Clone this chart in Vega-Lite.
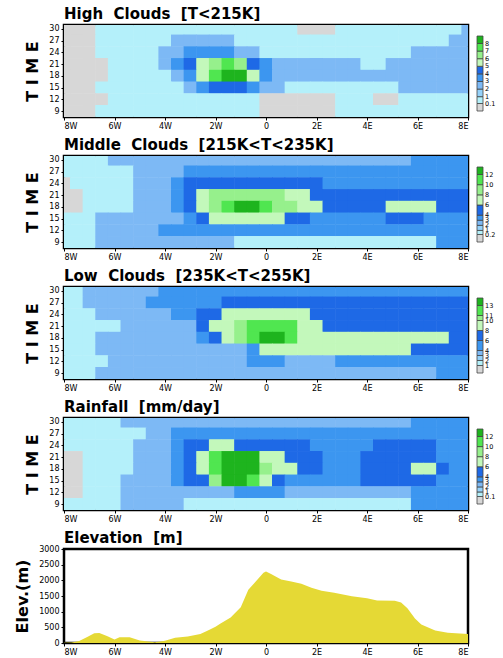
{
"$schema": "https://vega.github.io/schema/vega-lite/v6.json",
"padding": {"left": 13, "top": 5, "right": 0, "bottom": 0},
"background": "white",
"spacing": 4,
"resolve": {"scale": {"color": "independent"}, "legend": {"color": "independent"}},
"config": {
 "view": {"stroke": "#000", "strokeWidth": 2.5},
 "axis": {"grid": false, "domain": false, "tickColor": "#000", "tickSize": 3, "labelFont": "DejaVu Sans", "labelFontSize": 8, "labelColor": "#000", "labelPadding": 2, "titleFont": "DejaVu Sans", "titleFontWeight": "bold", "titleColor": "#000", "titleFontSize": 16, "titlePadding": 8},
 "title": {"anchor": "start", "frame": "group", "font": "DejaVu Sans", "fontSize": 15, "fontWeight": "bold", "color": "#000", "offset": 3},
 "legend": {"type": "gradient", "orient": "none", "legendX": 413, "legendY": 11, "gradientLength": 75, "gradientThickness": 6, "labelFont": "DejaVu Sans", "labelFontSize": 6.5, "labelColor": "#000", "labelOverlap": false, "gradientStrokeColor": "#444", "gradientStrokeWidth": 0.8, "labelOffset": 2, "padding": 0}
},
"vconcat": [
{
 "title": {"text": "High\u00a0 Clouds\u00a0 [T<215K]"},
 "width": 404, "height": 92,
 "data": {"values": [
{"x":-8,"t":30,"v":0.05},{"x":-7.5,"t":30,"v":0.05},{"x":-7,"t":30,"v":0.05},{"x":-6.5,"t":30,"v":0.5},{"x":-6,"t":30,"v":0.5},{"x":-5.5,"t":30,"v":0.5},{"x":-5,"t":30,"v":0.5},{"x":-4.5,"t":30,"v":0.5},{"x":-4,"t":30,"v":0.5},{"x":-3.5,"t":30,"v":0.5},{"x":-3,"t":30,"v":0.5},{"x":-2.5,"t":30,"v":0.5},{"x":-2,"t":30,"v":0.5},{"x":-1.5,"t":30,"v":0.5},{"x":-1,"t":30,"v":0.5},{"x":-0.5,"t":30,"v":0.5},{"x":0,"t":30,"v":0.5},{"x":0.5,"t":30,"v":0.5},{"x":1,"t":30,"v":0.5},{"x":1.5,"t":30,"v":0.05},{"x":2,"t":30,"v":0.05},{"x":2.5,"t":30,"v":0.05},{"x":3,"t":30,"v":0.5},{"x":3.5,"t":30,"v":0.5},{"x":4,"t":30,"v":0.5},{"x":4.5,"t":30,"v":0.5},{"x":5,"t":30,"v":0.5},{"x":5.5,"t":30,"v":0.5},{"x":6,"t":30,"v":0.5},{"x":6.5,"t":30,"v":0.5},{"x":7,"t":30,"v":0.5},{"x":7.5,"t":30,"v":0.5},{"x":8,"t":30,"v":2.5},
{"x":-8,"t":27,"v":0.05},{"x":-7.5,"t":27,"v":0.05},{"x":-7,"t":27,"v":0.05},{"x":-6.5,"t":27,"v":0.5},{"x":-6,"t":27,"v":0.5},{"x":-5.5,"t":27,"v":0.5},{"x":-5,"t":27,"v":0.5},{"x":-4.5,"t":27,"v":0.5},{"x":-4,"t":27,"v":0.5},{"x":-3.5,"t":27,"v":2.5},{"x":-3,"t":27,"v":2.5},{"x":-2.5,"t":27,"v":2.5},{"x":-2,"t":27,"v":2.5},{"x":-1.5,"t":27,"v":2.5},{"x":-1,"t":27,"v":0.5},{"x":-0.5,"t":27,"v":0.5},{"x":0,"t":27,"v":0.5},{"x":0.5,"t":27,"v":0.5},{"x":1,"t":27,"v":0.5},{"x":1.5,"t":27,"v":0.5},{"x":2,"t":27,"v":0.5},{"x":2.5,"t":27,"v":0.5},{"x":3,"t":27,"v":0.5},{"x":3.5,"t":27,"v":0.5},{"x":4,"t":27,"v":0.5},{"x":4.5,"t":27,"v":0.5},{"x":5,"t":27,"v":0.5},{"x":5.5,"t":27,"v":0.5},{"x":6,"t":27,"v":0.5},{"x":6.5,"t":27,"v":0.5},{"x":7,"t":27,"v":0.5},{"x":7.5,"t":27,"v":2.5},{"x":8,"t":27,"v":2.5},
{"x":-8,"t":24,"v":0.05},{"x":-7.5,"t":24,"v":0.05},{"x":-7,"t":24,"v":0.05},{"x":-6.5,"t":24,"v":0.5},{"x":-6,"t":24,"v":0.5},{"x":-5.5,"t":24,"v":0.5},{"x":-5,"t":24,"v":0.5},{"x":-4.5,"t":24,"v":0.5},{"x":-4,"t":24,"v":2.5},{"x":-3.5,"t":24,"v":2.5},{"x":-3,"t":24,"v":3.5},{"x":-2.5,"t":24,"v":3.5},{"x":-2,"t":24,"v":3.5},{"x":-1.5,"t":24,"v":3.5},{"x":-1,"t":24,"v":2.5},{"x":-0.5,"t":24,"v":2.5},{"x":0,"t":24,"v":0.5},{"x":0.5,"t":24,"v":0.5},{"x":1,"t":24,"v":0.5},{"x":1.5,"t":24,"v":0.5},{"x":2,"t":24,"v":0.5},{"x":2.5,"t":24,"v":0.5},{"x":3,"t":24,"v":0.5},{"x":3.5,"t":24,"v":0.5},{"x":4,"t":24,"v":0.5},{"x":4.5,"t":24,"v":0.5},{"x":5,"t":24,"v":0.5},{"x":5.5,"t":24,"v":0.5},{"x":6,"t":24,"v":2.5},{"x":6.5,"t":24,"v":2.5},{"x":7,"t":24,"v":2.5},{"x":7.5,"t":24,"v":2.5},{"x":8,"t":24,"v":2.5},
{"x":-8,"t":21,"v":0.05},{"x":-7.5,"t":21,"v":0.05},{"x":-7,"t":21,"v":0.05},{"x":-6.5,"t":21,"v":0.05},{"x":-6,"t":21,"v":0.5},{"x":-5.5,"t":21,"v":0.5},{"x":-5,"t":21,"v":0.5},{"x":-4.5,"t":21,"v":0.5},{"x":-4,"t":21,"v":2.5},{"x":-3.5,"t":21,"v":3.5},{"x":-3,"t":21,"v":4.5},{"x":-2.5,"t":21,"v":5.5},{"x":-2,"t":21,"v":6.5},{"x":-1.5,"t":21,"v":7.5},{"x":-1,"t":21,"v":6.5},{"x":-0.5,"t":21,"v":4.5},{"x":0,"t":21,"v":3.5},{"x":0.5,"t":21,"v":2.5},{"x":1,"t":21,"v":2.5},{"x":1.5,"t":21,"v":2.5},{"x":2,"t":21,"v":2.5},{"x":2.5,"t":21,"v":2.5},{"x":3,"t":21,"v":2.5},{"x":3.5,"t":21,"v":2.5},{"x":4,"t":21,"v":0.5},{"x":4.5,"t":21,"v":0.5},{"x":5,"t":21,"v":2.5},{"x":5.5,"t":21,"v":2.5},{"x":6,"t":21,"v":2.5},{"x":6.5,"t":21,"v":2.5},{"x":7,"t":21,"v":2.5},{"x":7.5,"t":21,"v":2.5},{"x":8,"t":21,"v":2.5},
{"x":-8,"t":18,"v":0.05},{"x":-7.5,"t":18,"v":0.05},{"x":-7,"t":18,"v":0.05},{"x":-6.5,"t":18,"v":0.05},{"x":-6,"t":18,"v":0.5},{"x":-5.5,"t":18,"v":0.5},{"x":-5,"t":18,"v":0.5},{"x":-4.5,"t":18,"v":0.5},{"x":-4,"t":18,"v":0.5},{"x":-3.5,"t":18,"v":2.5},{"x":-3,"t":18,"v":3.5},{"x":-2.5,"t":18,"v":5.5},{"x":-2,"t":18,"v":7.5},{"x":-1.5,"t":18,"v":8.5},{"x":-1,"t":18,"v":8.5},{"x":-0.5,"t":18,"v":5.5},{"x":0,"t":18,"v":3.5},{"x":0.5,"t":18,"v":2.5},{"x":1,"t":18,"v":2.5},{"x":1.5,"t":18,"v":2.5},{"x":2,"t":18,"v":2.5},{"x":2.5,"t":18,"v":2.5},{"x":3,"t":18,"v":2.5},{"x":3.5,"t":18,"v":2.5},{"x":4,"t":18,"v":2.5},{"x":4.5,"t":18,"v":2.5},{"x":5,"t":18,"v":2.5},{"x":5.5,"t":18,"v":2.5},{"x":6,"t":18,"v":2.5},{"x":6.5,"t":18,"v":2.5},{"x":7,"t":18,"v":2.5},{"x":7.5,"t":18,"v":2.5},{"x":8,"t":18,"v":2.5},
{"x":-8,"t":15,"v":0.05},{"x":-7.5,"t":15,"v":0.05},{"x":-7,"t":15,"v":0.05},{"x":-6.5,"t":15,"v":0.5},{"x":-6,"t":15,"v":0.5},{"x":-5.5,"t":15,"v":0.5},{"x":-5,"t":15,"v":0.5},{"x":-4.5,"t":15,"v":0.5},{"x":-4,"t":15,"v":0.5},{"x":-3.5,"t":15,"v":0.5},{"x":-3,"t":15,"v":2.5},{"x":-2.5,"t":15,"v":3.5},{"x":-2,"t":15,"v":4.5},{"x":-1.5,"t":15,"v":4.5},{"x":-1,"t":15,"v":4.5},{"x":-0.5,"t":15,"v":3.5},{"x":0,"t":15,"v":2.5},{"x":0.5,"t":15,"v":2.5},{"x":1,"t":15,"v":0.5},{"x":1.5,"t":15,"v":0.5},{"x":2,"t":15,"v":0.5},{"x":2.5,"t":15,"v":0.5},{"x":3,"t":15,"v":0.5},{"x":3.5,"t":15,"v":0.5},{"x":4,"t":15,"v":0.5},{"x":4.5,"t":15,"v":0.5},{"x":5,"t":15,"v":0.5},{"x":5.5,"t":15,"v":2.5},{"x":6,"t":15,"v":2.5},{"x":6.5,"t":15,"v":2.5},{"x":7,"t":15,"v":2.5},{"x":7.5,"t":15,"v":2.5},{"x":8,"t":15,"v":2.5},
{"x":-8,"t":12,"v":0.05},{"x":-7.5,"t":12,"v":0.05},{"x":-7,"t":12,"v":0.05},{"x":-6.5,"t":12,"v":0.05},{"x":-6,"t":12,"v":0.5},{"x":-5.5,"t":12,"v":0.5},{"x":-5,"t":12,"v":0.5},{"x":-4.5,"t":12,"v":0.5},{"x":-4,"t":12,"v":0.5},{"x":-3.5,"t":12,"v":0.5},{"x":-3,"t":12,"v":0.5},{"x":-2.5,"t":12,"v":0.5},{"x":-2,"t":12,"v":0.5},{"x":-1.5,"t":12,"v":0.5},{"x":-1,"t":12,"v":0.5},{"x":-0.5,"t":12,"v":0.5},{"x":0,"t":12,"v":0.05},{"x":0.5,"t":12,"v":0.05},{"x":1,"t":12,"v":0.05},{"x":1.5,"t":12,"v":0.05},{"x":2,"t":12,"v":0.05},{"x":2.5,"t":12,"v":0.05},{"x":3,"t":12,"v":0.5},{"x":3.5,"t":12,"v":0.5},{"x":4,"t":12,"v":0.5},{"x":4.5,"t":12,"v":0.05},{"x":5,"t":12,"v":0.05},{"x":5.5,"t":12,"v":0.5},{"x":6,"t":12,"v":0.5},{"x":6.5,"t":12,"v":0.5},{"x":7,"t":12,"v":0.5},{"x":7.5,"t":12,"v":0.5},{"x":8,"t":12,"v":0.5},
{"x":-8,"t":9,"v":0.05},{"x":-7.5,"t":9,"v":0.05},{"x":-7,"t":9,"v":0.05},{"x":-6.5,"t":9,"v":0.5},{"x":-6,"t":9,"v":0.5},{"x":-5.5,"t":9,"v":0.5},{"x":-5,"t":9,"v":0.5},{"x":-4.5,"t":9,"v":0.5},{"x":-4,"t":9,"v":0.5},{"x":-3.5,"t":9,"v":0.5},{"x":-3,"t":9,"v":0.5},{"x":-2.5,"t":9,"v":0.5},{"x":-2,"t":9,"v":0.5},{"x":-1.5,"t":9,"v":0.5},{"x":-1,"t":9,"v":0.5},{"x":-0.5,"t":9,"v":0.5},{"x":0,"t":9,"v":0.05},{"x":0.5,"t":9,"v":0.05},{"x":1,"t":9,"v":0.05},{"x":1.5,"t":9,"v":0.05},{"x":2,"t":9,"v":0.05},{"x":2.5,"t":9,"v":0.05},{"x":3,"t":9,"v":0.5},{"x":3.5,"t":9,"v":0.5},{"x":4,"t":9,"v":0.5},{"x":4.5,"t":9,"v":0.5},{"x":5,"t":9,"v":0.5},{"x":5.5,"t":9,"v":0.5},{"x":6,"t":9,"v":0.5},{"x":6.5,"t":9,"v":0.5},{"x":7,"t":9,"v":0.5},{"x":7.5,"t":9,"v":0.5},{"x":8,"t":9,"v":0.5}
 ]},
 "mark": {"type": "rect", "width": 13.2, "height": 12.2, "clip": true},
 "encoding": {
  "x": {"field": "x", "type": "quantitative", "scale": {"domain": [-8, 8], "nice": false, "zero": false}, "axis": {"values": [-8,-6,-4,-2,0,2,4,6,8], "labelExpr": "datum.value < 0 ? -datum.value + 'W' : datum.value > 0 ? datum.value + 'E' : '0'", "title": null}},
  "y": {"field": "t", "type": "quantitative", "scale": {"domain": [7.5, 31], "nice": false, "zero": false}, "axis": {"values": [9,12,15,18,21,24,27,30], "title": "T I M E"}},
  "color": {"field": "v", "type": "quantitative", "scale": {"type": "threshold", "domain": [0.1,1,2,3,4,5,6,7,8], "range": ["#d7d7d7","#b4f0fa","#96d2fa","#7db9f5","#3c96f0","#1e69e6","#c3f8bb","#96f08c","#50e650","#1eb41e"]}, "legend": {"title": null, "format": "~g"}}
 }
},
{
 "title": {"text": "Middle\u00a0 Clouds\u00a0 [215K<T<235K]"},
 "width": 404, "height": 92,
 "data": {"values": [
{"x":-8,"t":30,"v":0.6},{"x":-7.5,"t":30,"v":0.6},{"x":-7,"t":30,"v":0.6},{"x":-6.5,"t":30,"v":0.6},{"x":-6,"t":30,"v":2.5},{"x":-5.5,"t":30,"v":2.5},{"x":-5,"t":30,"v":2.5},{"x":-4.5,"t":30,"v":2.5},{"x":-4,"t":30,"v":2.5},{"x":-3.5,"t":30,"v":2.5},{"x":-3,"t":30,"v":2.5},{"x":-2.5,"t":30,"v":2.5},{"x":-2,"t":30,"v":2.5},{"x":-1.5,"t":30,"v":2.5},{"x":-1,"t":30,"v":2.5},{"x":-0.5,"t":30,"v":2.5},{"x":0,"t":30,"v":2.5},{"x":0.5,"t":30,"v":2.5},{"x":1,"t":30,"v":2.5},{"x":1.5,"t":30,"v":2.5},{"x":2,"t":30,"v":2.5},{"x":2.5,"t":30,"v":2.5},{"x":3,"t":30,"v":2.5},{"x":3.5,"t":30,"v":2.5},{"x":4,"t":30,"v":2.5},{"x":4.5,"t":30,"v":2.5},{"x":5,"t":30,"v":2.5},{"x":5.5,"t":30,"v":2.5},{"x":6,"t":30,"v":3.5},{"x":6.5,"t":30,"v":3.5},{"x":7,"t":30,"v":3.5},{"x":7.5,"t":30,"v":3.5},{"x":8,"t":30,"v":3.5},
{"x":-8,"t":27,"v":0.6},{"x":-7.5,"t":27,"v":0.6},{"x":-7,"t":27,"v":0.6},{"x":-6.5,"t":27,"v":0.6},{"x":-6,"t":27,"v":0.6},{"x":-5.5,"t":27,"v":0.6},{"x":-5,"t":27,"v":2.5},{"x":-4.5,"t":27,"v":2.5},{"x":-4,"t":27,"v":2.5},{"x":-3.5,"t":27,"v":2.5},{"x":-3,"t":27,"v":3.5},{"x":-2.5,"t":27,"v":3.5},{"x":-2,"t":27,"v":3.5},{"x":-1.5,"t":27,"v":3.5},{"x":-1,"t":27,"v":3.5},{"x":-0.5,"t":27,"v":3.5},{"x":0,"t":27,"v":3.5},{"x":0.5,"t":27,"v":3.5},{"x":1,"t":27,"v":3.5},{"x":1.5,"t":27,"v":3.5},{"x":2,"t":27,"v":3.5},{"x":2.5,"t":27,"v":3.5},{"x":3,"t":27,"v":3.5},{"x":3.5,"t":27,"v":3.5},{"x":4,"t":27,"v":3.5},{"x":4.5,"t":27,"v":3.5},{"x":5,"t":27,"v":3.5},{"x":5.5,"t":27,"v":3.5},{"x":6,"t":27,"v":3.5},{"x":6.5,"t":27,"v":3.5},{"x":7,"t":27,"v":3.5},{"x":7.5,"t":27,"v":3.5},{"x":8,"t":27,"v":3.5},
{"x":-8,"t":24,"v":0.1},{"x":-7.5,"t":24,"v":0.6},{"x":-7,"t":24,"v":0.6},{"x":-6.5,"t":24,"v":0.6},{"x":-6,"t":24,"v":0.6},{"x":-5.5,"t":24,"v":0.6},{"x":-5,"t":24,"v":2.5},{"x":-4.5,"t":24,"v":2.5},{"x":-4,"t":24,"v":2.5},{"x":-3.5,"t":24,"v":3.5},{"x":-3,"t":24,"v":5},{"x":-2.5,"t":24,"v":5},{"x":-2,"t":24,"v":5},{"x":-1.5,"t":24,"v":5},{"x":-1,"t":24,"v":5},{"x":-0.5,"t":24,"v":5},{"x":0,"t":24,"v":5},{"x":0.5,"t":24,"v":5},{"x":1,"t":24,"v":5},{"x":1.5,"t":24,"v":5},{"x":2,"t":24,"v":5},{"x":2.5,"t":24,"v":3.5},{"x":3,"t":24,"v":3.5},{"x":3.5,"t":24,"v":3.5},{"x":4,"t":24,"v":3.5},{"x":4.5,"t":24,"v":3.5},{"x":5,"t":24,"v":3.5},{"x":5.5,"t":24,"v":3.5},{"x":6,"t":24,"v":3.5},{"x":6.5,"t":24,"v":3.5},{"x":7,"t":24,"v":3.5},{"x":7.5,"t":24,"v":3.5},{"x":8,"t":24,"v":3.5},
{"x":-8,"t":21,"v":0.1},{"x":-7.5,"t":21,"v":0.1},{"x":-7,"t":21,"v":0.6},{"x":-6.5,"t":21,"v":0.6},{"x":-6,"t":21,"v":0.6},{"x":-5.5,"t":21,"v":0.6},{"x":-5,"t":21,"v":2.5},{"x":-4.5,"t":21,"v":2.5},{"x":-4,"t":21,"v":2.5},{"x":-3.5,"t":21,"v":3.5},{"x":-3,"t":21,"v":5},{"x":-2.5,"t":21,"v":7},{"x":-2,"t":21,"v":9},{"x":-1.5,"t":21,"v":9},{"x":-1,"t":21,"v":9},{"x":-0.5,"t":21,"v":9},{"x":0,"t":21,"v":9},{"x":0.5,"t":21,"v":9},{"x":1,"t":21,"v":7},{"x":1.5,"t":21,"v":7},{"x":2,"t":21,"v":5},{"x":2.5,"t":21,"v":5},{"x":3,"t":21,"v":5},{"x":3.5,"t":21,"v":5},{"x":4,"t":21,"v":5},{"x":4.5,"t":21,"v":5},{"x":5,"t":21,"v":5},{"x":5.5,"t":21,"v":5},{"x":6,"t":21,"v":5},{"x":6.5,"t":21,"v":5},{"x":7,"t":21,"v":5},{"x":7.5,"t":21,"v":5},{"x":8,"t":21,"v":5},
{"x":-8,"t":18,"v":0.1},{"x":-7.5,"t":18,"v":0.1},{"x":-7,"t":18,"v":0.6},{"x":-6.5,"t":18,"v":0.6},{"x":-6,"t":18,"v":0.6},{"x":-5.5,"t":18,"v":0.6},{"x":-5,"t":18,"v":2.5},{"x":-4.5,"t":18,"v":2.5},{"x":-4,"t":18,"v":2.5},{"x":-3.5,"t":18,"v":3.5},{"x":-3,"t":18,"v":5},{"x":-2.5,"t":18,"v":7},{"x":-2,"t":18,"v":9},{"x":-1.5,"t":18,"v":11},{"x":-1,"t":18,"v":13},{"x":-0.5,"t":18,"v":13},{"x":0,"t":18,"v":11},{"x":0.5,"t":18,"v":9},{"x":1,"t":18,"v":9},{"x":1.5,"t":18,"v":7},{"x":2,"t":18,"v":7},{"x":2.5,"t":18,"v":5},{"x":3,"t":18,"v":5},{"x":3.5,"t":18,"v":5},{"x":4,"t":18,"v":5},{"x":4.5,"t":18,"v":5},{"x":5,"t":18,"v":7},{"x":5.5,"t":18,"v":7},{"x":6,"t":18,"v":7},{"x":6.5,"t":18,"v":7},{"x":7,"t":18,"v":5},{"x":7.5,"t":18,"v":5},{"x":8,"t":18,"v":5},
{"x":-8,"t":15,"v":0.6},{"x":-7.5,"t":15,"v":0.6},{"x":-7,"t":15,"v":0.6},{"x":-6.5,"t":15,"v":2.5},{"x":-6,"t":15,"v":2.5},{"x":-5.5,"t":15,"v":2.5},{"x":-5,"t":15,"v":2.5},{"x":-4.5,"t":15,"v":2.5},{"x":-4,"t":15,"v":2.5},{"x":-3.5,"t":15,"v":2.5},{"x":-3,"t":15,"v":3.5},{"x":-2.5,"t":15,"v":5},{"x":-2,"t":15,"v":7},{"x":-1.5,"t":15,"v":7},{"x":-1,"t":15,"v":7},{"x":-0.5,"t":15,"v":7},{"x":0,"t":15,"v":7},{"x":0.5,"t":15,"v":7},{"x":1,"t":15,"v":5},{"x":1.5,"t":15,"v":5},{"x":2,"t":15,"v":3.5},{"x":2.5,"t":15,"v":3.5},{"x":3,"t":15,"v":3.5},{"x":3.5,"t":15,"v":3.5},{"x":4,"t":15,"v":3.5},{"x":4.5,"t":15,"v":3.5},{"x":5,"t":15,"v":5},{"x":5.5,"t":15,"v":5},{"x":6,"t":15,"v":5},{"x":6.5,"t":15,"v":3.5},{"x":7,"t":15,"v":3.5},{"x":7.5,"t":15,"v":3.5},{"x":8,"t":15,"v":3.5},
{"x":-8,"t":12,"v":0.6},{"x":-7.5,"t":12,"v":0.6},{"x":-7,"t":12,"v":0.6},{"x":-6.5,"t":12,"v":2.5},{"x":-6,"t":12,"v":2.5},{"x":-5.5,"t":12,"v":2.5},{"x":-5,"t":12,"v":2.5},{"x":-4.5,"t":12,"v":2.5},{"x":-4,"t":12,"v":3.5},{"x":-3.5,"t":12,"v":3.5},{"x":-3,"t":12,"v":3.5},{"x":-2.5,"t":12,"v":3.5},{"x":-2,"t":12,"v":3.5},{"x":-1.5,"t":12,"v":3.5},{"x":-1,"t":12,"v":3.5},{"x":-0.5,"t":12,"v":3.5},{"x":0,"t":12,"v":3.5},{"x":0.5,"t":12,"v":3.5},{"x":1,"t":12,"v":3.5},{"x":1.5,"t":12,"v":3.5},{"x":2,"t":12,"v":3.5},{"x":2.5,"t":12,"v":3.5},{"x":3,"t":12,"v":3.5},{"x":3.5,"t":12,"v":3.5},{"x":4,"t":12,"v":3.5},{"x":4.5,"t":12,"v":3.5},{"x":5,"t":12,"v":3.5},{"x":5.5,"t":12,"v":3.5},{"x":6,"t":12,"v":3.5},{"x":6.5,"t":12,"v":3.5},{"x":7,"t":12,"v":3.5},{"x":7.5,"t":12,"v":3.5},{"x":8,"t":12,"v":3.5},
{"x":-8,"t":9,"v":0.6},{"x":-7.5,"t":9,"v":0.6},{"x":-7,"t":9,"v":0.6},{"x":-6.5,"t":9,"v":2.5},{"x":-6,"t":9,"v":2.5},{"x":-5.5,"t":9,"v":2.5},{"x":-5,"t":9,"v":2.5},{"x":-4.5,"t":9,"v":2.5},{"x":-4,"t":9,"v":2.5},{"x":-3.5,"t":9,"v":2.5},{"x":-3,"t":9,"v":2.5},{"x":-2.5,"t":9,"v":2.5},{"x":-2,"t":9,"v":2.5},{"x":-1.5,"t":9,"v":2.5},{"x":-1,"t":9,"v":0.6},{"x":-0.5,"t":9,"v":0.6},{"x":0,"t":9,"v":0.6},{"x":0.5,"t":9,"v":0.6},{"x":1,"t":9,"v":0.6},{"x":1.5,"t":9,"v":0.6},{"x":2,"t":9,"v":0.6},{"x":2.5,"t":9,"v":0.6},{"x":3,"t":9,"v":0.6},{"x":3.5,"t":9,"v":0.6},{"x":4,"t":9,"v":0.6},{"x":4.5,"t":9,"v":0.6},{"x":5,"t":9,"v":0.6},{"x":5.5,"t":9,"v":0.6},{"x":6,"t":9,"v":0.6},{"x":6.5,"t":9,"v":0.6},{"x":7,"t":9,"v":3.5},{"x":7.5,"t":9,"v":3.5},{"x":8,"t":9,"v":3.5}
 ]},
 "mark": {"type": "rect", "width": 13.2, "height": 12.2, "clip": true},
 "encoding": {
  "x": {"field": "x", "type": "quantitative", "scale": {"domain": [-8, 8], "nice": false, "zero": false}, "axis": {"values": [-8,-6,-4,-2,0,2,4,6,8], "labelExpr": "datum.value < 0 ? -datum.value + 'W' : datum.value > 0 ? datum.value + 'E' : '0'", "title": null}},
  "y": {"field": "t", "type": "quantitative", "scale": {"domain": [7.5, 31], "nice": false, "zero": false}, "axis": {"values": [9,12,15,18,21,24,27,30], "title": "T I M E"}},
  "color": {"field": "v", "type": "quantitative", "scale": {"type": "threshold", "domain": [0.2,1,2,3,4,6,8,10,12], "range": ["#d7d7d7","#b4f0fa","#96d2fa","#7db9f5","#3c96f0","#1e69e6","#c3f8bb","#96f08c","#50e650","#1eb41e"]}, "legend": {"title": null, "format": "~g"}}
 }
},
{
 "title": {"text": "Low\u00a0 Clouds\u00a0 [235K<T<255K]"},
 "width": 404, "height": 92,
 "data": {"values": [
{"x":-8,"t":30,"v":1.5},{"x":-7.5,"t":30,"v":1.5},{"x":-7,"t":30,"v":3.5},{"x":-6.5,"t":30,"v":3.5},{"x":-6,"t":30,"v":3.5},{"x":-5.5,"t":30,"v":3.5},{"x":-5,"t":30,"v":3.5},{"x":-4.5,"t":30,"v":3.5},{"x":-4,"t":30,"v":5},{"x":-3.5,"t":30,"v":5},{"x":-3,"t":30,"v":5},{"x":-2.5,"t":30,"v":5},{"x":-2,"t":30,"v":5},{"x":-1.5,"t":30,"v":5},{"x":-1,"t":30,"v":5},{"x":-0.5,"t":30,"v":5},{"x":0,"t":30,"v":5},{"x":0.5,"t":30,"v":5},{"x":1,"t":30,"v":5},{"x":1.5,"t":30,"v":5},{"x":2,"t":30,"v":5},{"x":2.5,"t":30,"v":5},{"x":3,"t":30,"v":5},{"x":3.5,"t":30,"v":5},{"x":4,"t":30,"v":5},{"x":4.5,"t":30,"v":5},{"x":5,"t":30,"v":5},{"x":5.5,"t":30,"v":5},{"x":6,"t":30,"v":5},{"x":6.5,"t":30,"v":5},{"x":7,"t":30,"v":5},{"x":7.5,"t":30,"v":5},{"x":8,"t":30,"v":5},
{"x":-8,"t":27,"v":1.5},{"x":-7.5,"t":27,"v":1.5},{"x":-7,"t":27,"v":3.5},{"x":-6.5,"t":27,"v":3.5},{"x":-6,"t":27,"v":3.5},{"x":-5.5,"t":27,"v":3.5},{"x":-5,"t":27,"v":3.5},{"x":-4.5,"t":27,"v":5},{"x":-4,"t":27,"v":5},{"x":-3.5,"t":27,"v":5},{"x":-3,"t":27,"v":5},{"x":-2.5,"t":27,"v":5},{"x":-2,"t":27,"v":5},{"x":-1.5,"t":27,"v":7},{"x":-1,"t":27,"v":7},{"x":-0.5,"t":27,"v":7},{"x":0,"t":27,"v":7},{"x":0.5,"t":27,"v":7},{"x":1,"t":27,"v":7},{"x":1.5,"t":27,"v":7},{"x":2,"t":27,"v":7},{"x":2.5,"t":27,"v":7},{"x":3,"t":27,"v":7},{"x":3.5,"t":27,"v":7},{"x":4,"t":27,"v":7},{"x":4.5,"t":27,"v":7},{"x":5,"t":27,"v":7},{"x":5.5,"t":27,"v":7},{"x":6,"t":27,"v":7},{"x":6.5,"t":27,"v":7},{"x":7,"t":27,"v":7},{"x":7.5,"t":27,"v":7},{"x":8,"t":27,"v":7},
{"x":-8,"t":24,"v":1.5},{"x":-7.5,"t":24,"v":1.5},{"x":-7,"t":24,"v":1.5},{"x":-6.5,"t":24,"v":3.5},{"x":-6,"t":24,"v":3.5},{"x":-5.5,"t":24,"v":3.5},{"x":-5,"t":24,"v":3.5},{"x":-4.5,"t":24,"v":3.5},{"x":-4,"t":24,"v":3.5},{"x":-3.5,"t":24,"v":5},{"x":-3,"t":24,"v":5},{"x":-2.5,"t":24,"v":7},{"x":-2,"t":24,"v":7},{"x":-1.5,"t":24,"v":9},{"x":-1,"t":24,"v":9},{"x":-0.5,"t":24,"v":9},{"x":0,"t":24,"v":9},{"x":0.5,"t":24,"v":9},{"x":1,"t":24,"v":9},{"x":1.5,"t":24,"v":9},{"x":2,"t":24,"v":7},{"x":2.5,"t":24,"v":7},{"x":3,"t":24,"v":7},{"x":3.5,"t":24,"v":7},{"x":4,"t":24,"v":7},{"x":4.5,"t":24,"v":7},{"x":5,"t":24,"v":7},{"x":5.5,"t":24,"v":7},{"x":6,"t":24,"v":7},{"x":6.5,"t":24,"v":7},{"x":7,"t":24,"v":7},{"x":7.5,"t":24,"v":7},{"x":8,"t":24,"v":7},
{"x":-8,"t":21,"v":1.5},{"x":-7.5,"t":21,"v":1.5},{"x":-7,"t":21,"v":1.5},{"x":-6.5,"t":21,"v":1.5},{"x":-6,"t":21,"v":1.5},{"x":-5.5,"t":21,"v":3.5},{"x":-5,"t":21,"v":3.5},{"x":-4.5,"t":21,"v":3.5},{"x":-4,"t":21,"v":3.5},{"x":-3.5,"t":21,"v":3.5},{"x":-3,"t":21,"v":3.5},{"x":-2.5,"t":21,"v":7},{"x":-2,"t":21,"v":9},{"x":-1.5,"t":21,"v":9},{"x":-1,"t":21,"v":10.5},{"x":-0.5,"t":21,"v":12},{"x":0,"t":21,"v":12},{"x":0.5,"t":21,"v":12},{"x":1,"t":21,"v":12},{"x":1.5,"t":21,"v":9},{"x":2,"t":21,"v":9},{"x":2.5,"t":21,"v":7},{"x":3,"t":21,"v":7},{"x":3.5,"t":21,"v":7},{"x":4,"t":21,"v":7},{"x":4.5,"t":21,"v":7},{"x":5,"t":21,"v":7},{"x":5.5,"t":21,"v":7},{"x":6,"t":21,"v":7},{"x":6.5,"t":21,"v":7},{"x":7,"t":21,"v":7},{"x":7.5,"t":21,"v":7},{"x":8,"t":21,"v":7},
{"x":-8,"t":18,"v":1.5},{"x":-7.5,"t":18,"v":1.5},{"x":-7,"t":18,"v":1.5},{"x":-6.5,"t":18,"v":3.5},{"x":-6,"t":18,"v":3.5},{"x":-5.5,"t":18,"v":3.5},{"x":-5,"t":18,"v":3.5},{"x":-4.5,"t":18,"v":3.5},{"x":-4,"t":18,"v":3.5},{"x":-3.5,"t":18,"v":3.5},{"x":-3,"t":18,"v":3.5},{"x":-2.5,"t":18,"v":5},{"x":-2,"t":18,"v":7},{"x":-1.5,"t":18,"v":9},{"x":-1,"t":18,"v":10.5},{"x":-0.5,"t":18,"v":12},{"x":0,"t":18,"v":14},{"x":0.5,"t":18,"v":14},{"x":1,"t":18,"v":12},{"x":1.5,"t":18,"v":9},{"x":2,"t":18,"v":9},{"x":2.5,"t":18,"v":9},{"x":3,"t":18,"v":9},{"x":3.5,"t":18,"v":9},{"x":4,"t":18,"v":9},{"x":4.5,"t":18,"v":9},{"x":5,"t":18,"v":9},{"x":5.5,"t":18,"v":9},{"x":6,"t":18,"v":9},{"x":6.5,"t":18,"v":9},{"x":7,"t":18,"v":9},{"x":7.5,"t":18,"v":7},{"x":8,"t":18,"v":7},
{"x":-8,"t":15,"v":1.5},{"x":-7.5,"t":15,"v":1.5},{"x":-7,"t":15,"v":1.5},{"x":-6.5,"t":15,"v":3.5},{"x":-6,"t":15,"v":3.5},{"x":-5.5,"t":15,"v":3.5},{"x":-5,"t":15,"v":3.5},{"x":-4.5,"t":15,"v":3.5},{"x":-4,"t":15,"v":3.5},{"x":-3.5,"t":15,"v":3.5},{"x":-3,"t":15,"v":3.5},{"x":-2.5,"t":15,"v":3.5},{"x":-2,"t":15,"v":3.5},{"x":-1.5,"t":15,"v":3.5},{"x":-1,"t":15,"v":3.5},{"x":-0.5,"t":15,"v":5},{"x":0,"t":15,"v":9},{"x":0.5,"t":15,"v":9},{"x":1,"t":15,"v":9},{"x":1.5,"t":15,"v":9},{"x":2,"t":15,"v":9},{"x":2.5,"t":15,"v":9},{"x":3,"t":15,"v":9},{"x":3.5,"t":15,"v":9},{"x":4,"t":15,"v":9},{"x":4.5,"t":15,"v":9},{"x":5,"t":15,"v":9},{"x":5.5,"t":15,"v":9},{"x":6,"t":15,"v":7},{"x":6.5,"t":15,"v":7},{"x":7,"t":15,"v":7},{"x":7.5,"t":15,"v":7},{"x":8,"t":15,"v":7},
{"x":-8,"t":12,"v":1.5},{"x":-7.5,"t":12,"v":1.5},{"x":-7,"t":12,"v":1.5},{"x":-6.5,"t":12,"v":1.5},{"x":-6,"t":12,"v":3.5},{"x":-5.5,"t":12,"v":3.5},{"x":-5,"t":12,"v":3.5},{"x":-4.5,"t":12,"v":3.5},{"x":-4,"t":12,"v":3.5},{"x":-3.5,"t":12,"v":3.5},{"x":-3,"t":12,"v":3.5},{"x":-2.5,"t":12,"v":3.5},{"x":-2,"t":12,"v":3.5},{"x":-1.5,"t":12,"v":3.5},{"x":-1,"t":12,"v":3.5},{"x":-0.5,"t":12,"v":5},{"x":0,"t":12,"v":5},{"x":0.5,"t":12,"v":5},{"x":1,"t":12,"v":3.5},{"x":1.5,"t":12,"v":3.5},{"x":2,"t":12,"v":3.5},{"x":2.5,"t":12,"v":3.5},{"x":3,"t":12,"v":5},{"x":3.5,"t":12,"v":5},{"x":4,"t":12,"v":5},{"x":4.5,"t":12,"v":5},{"x":5,"t":12,"v":5},{"x":5.5,"t":12,"v":5},{"x":6,"t":12,"v":5},{"x":6.5,"t":12,"v":5},{"x":7,"t":12,"v":5},{"x":7.5,"t":12,"v":5},{"x":8,"t":12,"v":5},
{"x":-8,"t":9,"v":1.5},{"x":-7.5,"t":9,"v":1.5},{"x":-7,"t":9,"v":1.5},{"x":-6.5,"t":9,"v":3.5},{"x":-6,"t":9,"v":3.5},{"x":-5.5,"t":9,"v":3.5},{"x":-5,"t":9,"v":3.5},{"x":-4.5,"t":9,"v":3.5},{"x":-4,"t":9,"v":3.5},{"x":-3.5,"t":9,"v":3.5},{"x":-3,"t":9,"v":3.5},{"x":-2.5,"t":9,"v":3.5},{"x":-2,"t":9,"v":3.5},{"x":-1.5,"t":9,"v":3.5},{"x":-1,"t":9,"v":3.5},{"x":-0.5,"t":9,"v":3.5},{"x":0,"t":9,"v":3.5},{"x":0.5,"t":9,"v":3.5},{"x":1,"t":9,"v":3.5},{"x":1.5,"t":9,"v":3.5},{"x":2,"t":9,"v":3.5},{"x":2.5,"t":9,"v":3.5},{"x":3,"t":9,"v":3.5},{"x":3.5,"t":9,"v":3.5},{"x":4,"t":9,"v":3.5},{"x":4.5,"t":9,"v":3.5},{"x":5,"t":9,"v":3.5},{"x":5.5,"t":9,"v":3.5},{"x":6,"t":9,"v":3.5},{"x":6.5,"t":9,"v":3.5},{"x":7,"t":9,"v":5},{"x":7.5,"t":9,"v":5},{"x":8,"t":9,"v":5}
 ]},
 "mark": {"type": "rect", "width": 13.2, "height": 12.2, "clip": true},
 "encoding": {
  "x": {"field": "x", "type": "quantitative", "scale": {"domain": [-8, 8], "nice": false, "zero": false}, "axis": {"values": [-8,-6,-4,-2,0,2,4,6,8], "labelExpr": "datum.value < 0 ? -datum.value + 'W' : datum.value > 0 ? datum.value + 'E' : '0'", "title": null}},
  "y": {"field": "t", "type": "quantitative", "scale": {"domain": [7.5, 31], "nice": false, "zero": false}, "axis": {"values": [9,12,15,18,21,24,27,30], "title": "T I M E"}},
  "color": {"field": "v", "type": "quantitative", "scale": {"type": "threshold", "domain": [1,2,3,4,6,8,10,11,13], "range": ["#d7d7d7","#b4f0fa","#96d2fa","#7db9f5","#3c96f0","#1e69e6","#c3f8bb","#96f08c","#50e650","#1eb41e"]}, "legend": {"title": null, "format": "~g"}}
 }
},
{
 "title": {"text": "Rainfall\u00a0 [mm/day]"},
 "width": 404, "height": 92,
 "data": {"values": [
{"x":-8,"t":30,"v":0.5},{"x":-7.5,"t":30,"v":0.5},{"x":-7,"t":30,"v":0.5},{"x":-6.5,"t":30,"v":0.5},{"x":-6,"t":30,"v":0.5},{"x":-5.5,"t":30,"v":2.5},{"x":-5,"t":30,"v":2.5},{"x":-4.5,"t":30,"v":2.5},{"x":-4,"t":30,"v":2.5},{"x":-3.5,"t":30,"v":2.5},{"x":-3,"t":30,"v":2.5},{"x":-2.5,"t":30,"v":2.5},{"x":-2,"t":30,"v":2.5},{"x":-1.5,"t":30,"v":2.5},{"x":-1,"t":30,"v":2.5},{"x":-0.5,"t":30,"v":2.5},{"x":0,"t":30,"v":2.5},{"x":0.5,"t":30,"v":2.5},{"x":1,"t":30,"v":2.5},{"x":1.5,"t":30,"v":2.5},{"x":2,"t":30,"v":2.5},{"x":2.5,"t":30,"v":2.5},{"x":3,"t":30,"v":2.5},{"x":3.5,"t":30,"v":2.5},{"x":4,"t":30,"v":2.5},{"x":4.5,"t":30,"v":2.5},{"x":5,"t":30,"v":2.5},{"x":5.5,"t":30,"v":2.5},{"x":6,"t":30,"v":3.5},{"x":6.5,"t":30,"v":3.5},{"x":7,"t":30,"v":3.5},{"x":7.5,"t":30,"v":3.5},{"x":8,"t":30,"v":3.5},
{"x":-8,"t":27,"v":0.5},{"x":-7.5,"t":27,"v":0.5},{"x":-7,"t":27,"v":0.5},{"x":-6.5,"t":27,"v":0.5},{"x":-6,"t":27,"v":0.5},{"x":-5.5,"t":27,"v":0.5},{"x":-5,"t":27,"v":0.5},{"x":-4.5,"t":27,"v":2.5},{"x":-4,"t":27,"v":2.5},{"x":-3.5,"t":27,"v":3.5},{"x":-3,"t":27,"v":3.5},{"x":-2.5,"t":27,"v":3.5},{"x":-2,"t":27,"v":3.5},{"x":-1.5,"t":27,"v":3.5},{"x":-1,"t":27,"v":3.5},{"x":-0.5,"t":27,"v":3.5},{"x":0,"t":27,"v":3.5},{"x":0.5,"t":27,"v":3.5},{"x":1,"t":27,"v":3.5},{"x":1.5,"t":27,"v":3.5},{"x":2,"t":27,"v":3.5},{"x":2.5,"t":27,"v":3.5},{"x":3,"t":27,"v":3.5},{"x":3.5,"t":27,"v":3.5},{"x":4,"t":27,"v":3.5},{"x":4.5,"t":27,"v":3.5},{"x":5,"t":27,"v":3.5},{"x":5.5,"t":27,"v":3.5},{"x":6,"t":27,"v":3.5},{"x":6.5,"t":27,"v":3.5},{"x":7,"t":27,"v":3.5},{"x":7.5,"t":27,"v":3.5},{"x":8,"t":27,"v":3.5},
{"x":-8,"t":24,"v":0.5},{"x":-7.5,"t":24,"v":0.5},{"x":-7,"t":24,"v":0.5},{"x":-6.5,"t":24,"v":0.5},{"x":-6,"t":24,"v":0.5},{"x":-5.5,"t":24,"v":0.5},{"x":-5,"t":24,"v":2.5},{"x":-4.5,"t":24,"v":2.5},{"x":-4,"t":24,"v":2.5},{"x":-3.5,"t":24,"v":3.5},{"x":-3,"t":24,"v":5},{"x":-2.5,"t":24,"v":5},{"x":-2,"t":24,"v":7},{"x":-1.5,"t":24,"v":7},{"x":-1,"t":24,"v":5},{"x":-0.5,"t":24,"v":5},{"x":0,"t":24,"v":5},{"x":0.5,"t":24,"v":5},{"x":1,"t":24,"v":5},{"x":1.5,"t":24,"v":5},{"x":2,"t":24,"v":3.5},{"x":2.5,"t":24,"v":3.5},{"x":3,"t":24,"v":3.5},{"x":3.5,"t":24,"v":3.5},{"x":4,"t":24,"v":3.5},{"x":4.5,"t":24,"v":5},{"x":5,"t":24,"v":5},{"x":5.5,"t":24,"v":5},{"x":6,"t":24,"v":5},{"x":6.5,"t":24,"v":5},{"x":7,"t":24,"v":3.5},{"x":7.5,"t":24,"v":3.5},{"x":8,"t":24,"v":3.5},
{"x":-8,"t":21,"v":0.05},{"x":-7.5,"t":21,"v":0.05},{"x":-7,"t":21,"v":0.5},{"x":-6.5,"t":21,"v":0.5},{"x":-6,"t":21,"v":0.5},{"x":-5.5,"t":21,"v":0.5},{"x":-5,"t":21,"v":2.5},{"x":-4.5,"t":21,"v":2.5},{"x":-4,"t":21,"v":2.5},{"x":-3.5,"t":21,"v":3.5},{"x":-3,"t":21,"v":5},{"x":-2.5,"t":21,"v":7},{"x":-2,"t":21,"v":11},{"x":-1.5,"t":21,"v":13},{"x":-1,"t":21,"v":13},{"x":-0.5,"t":21,"v":13},{"x":0,"t":21,"v":7},{"x":0.5,"t":21,"v":7},{"x":1,"t":21,"v":5},{"x":1.5,"t":21,"v":5},{"x":2,"t":21,"v":5},{"x":2.5,"t":21,"v":3.5},{"x":3,"t":21,"v":3.5},{"x":3.5,"t":21,"v":3.5},{"x":4,"t":21,"v":5},{"x":4.5,"t":21,"v":5},{"x":5,"t":21,"v":5},{"x":5.5,"t":21,"v":5},{"x":6,"t":21,"v":5},{"x":6.5,"t":21,"v":5},{"x":7,"t":21,"v":3.5},{"x":7.5,"t":21,"v":3.5},{"x":8,"t":21,"v":3.5},
{"x":-8,"t":18,"v":0.05},{"x":-7.5,"t":18,"v":0.05},{"x":-7,"t":18,"v":0.5},{"x":-6.5,"t":18,"v":0.5},{"x":-6,"t":18,"v":0.5},{"x":-5.5,"t":18,"v":0.5},{"x":-5,"t":18,"v":2.5},{"x":-4.5,"t":18,"v":2.5},{"x":-4,"t":18,"v":2.5},{"x":-3.5,"t":18,"v":3.5},{"x":-3,"t":18,"v":5},{"x":-2.5,"t":18,"v":7},{"x":-2,"t":18,"v":11},{"x":-1.5,"t":18,"v":13},{"x":-1,"t":18,"v":13},{"x":-0.5,"t":18,"v":13},{"x":0,"t":18,"v":9},{"x":0.5,"t":18,"v":7},{"x":1,"t":18,"v":7},{"x":1.5,"t":18,"v":5},{"x":2,"t":18,"v":5},{"x":2.5,"t":18,"v":3.5},{"x":3,"t":18,"v":3.5},{"x":3.5,"t":18,"v":3.5},{"x":4,"t":18,"v":5},{"x":4.5,"t":18,"v":5},{"x":5,"t":18,"v":5},{"x":5.5,"t":18,"v":5},{"x":6,"t":18,"v":7},{"x":6.5,"t":18,"v":7},{"x":7,"t":18,"v":5},{"x":7.5,"t":18,"v":3.5},{"x":8,"t":18,"v":3.5},
{"x":-8,"t":15,"v":0.05},{"x":-7.5,"t":15,"v":0.05},{"x":-7,"t":15,"v":0.5},{"x":-6.5,"t":15,"v":0.5},{"x":-6,"t":15,"v":0.5},{"x":-5.5,"t":15,"v":2.5},{"x":-5,"t":15,"v":2.5},{"x":-4.5,"t":15,"v":2.5},{"x":-4,"t":15,"v":2.5},{"x":-3.5,"t":15,"v":3.5},{"x":-3,"t":15,"v":5},{"x":-2.5,"t":15,"v":5},{"x":-2,"t":15,"v":9},{"x":-1.5,"t":15,"v":13},{"x":-1,"t":15,"v":13},{"x":-0.5,"t":15,"v":11},{"x":0,"t":15,"v":7},{"x":0.5,"t":15,"v":5},{"x":1,"t":15,"v":3.5},{"x":1.5,"t":15,"v":3.5},{"x":2,"t":15,"v":3.5},{"x":2.5,"t":15,"v":3.5},{"x":3,"t":15,"v":3.5},{"x":3.5,"t":15,"v":3.5},{"x":4,"t":15,"v":5},{"x":4.5,"t":15,"v":5},{"x":5,"t":15,"v":5},{"x":5.5,"t":15,"v":5},{"x":6,"t":15,"v":5},{"x":6.5,"t":15,"v":5},{"x":7,"t":15,"v":3.5},{"x":7.5,"t":15,"v":3.5},{"x":8,"t":15,"v":3.5},
{"x":-8,"t":12,"v":0.05},{"x":-7.5,"t":12,"v":0.05},{"x":-7,"t":12,"v":0.5},{"x":-6.5,"t":12,"v":0.5},{"x":-6,"t":12,"v":0.5},{"x":-5.5,"t":12,"v":2.5},{"x":-5,"t":12,"v":2.5},{"x":-4.5,"t":12,"v":2.5},{"x":-4,"t":12,"v":2.5},{"x":-3.5,"t":12,"v":2.5},{"x":-3,"t":12,"v":2.5},{"x":-2.5,"t":12,"v":2.5},{"x":-2,"t":12,"v":2.5},{"x":-1.5,"t":12,"v":2.5},{"x":-1,"t":12,"v":3.5},{"x":-0.5,"t":12,"v":3.5},{"x":0,"t":12,"v":3.5},{"x":0.5,"t":12,"v":3.5},{"x":1,"t":12,"v":2.5},{"x":1.5,"t":12,"v":2.5},{"x":2,"t":12,"v":2.5},{"x":2.5,"t":12,"v":2.5},{"x":3,"t":12,"v":2.5},{"x":3.5,"t":12,"v":2.5},{"x":4,"t":12,"v":2.5},{"x":4.5,"t":12,"v":2.5},{"x":5,"t":12,"v":2.5},{"x":5.5,"t":12,"v":2.5},{"x":6,"t":12,"v":3.5},{"x":6.5,"t":12,"v":3.5},{"x":7,"t":12,"v":3.5},{"x":7.5,"t":12,"v":3.5},{"x":8,"t":12,"v":3.5},
{"x":-8,"t":9,"v":0.5},{"x":-7.5,"t":9,"v":0.5},{"x":-7,"t":9,"v":0.5},{"x":-6.5,"t":9,"v":0.5},{"x":-6,"t":9,"v":0.5},{"x":-5.5,"t":9,"v":2.5},{"x":-5,"t":9,"v":2.5},{"x":-4.5,"t":9,"v":2.5},{"x":-4,"t":9,"v":2.5},{"x":-3.5,"t":9,"v":2.5},{"x":-3,"t":9,"v":0.5},{"x":-2.5,"t":9,"v":0.5},{"x":-2,"t":9,"v":0.5},{"x":-1.5,"t":9,"v":0.5},{"x":-1,"t":9,"v":0.5},{"x":-0.5,"t":9,"v":0.5},{"x":0,"t":9,"v":0.5},{"x":0.5,"t":9,"v":0.5},{"x":1,"t":9,"v":0.5},{"x":1.5,"t":9,"v":0.5},{"x":2,"t":9,"v":0.5},{"x":2.5,"t":9,"v":0.5},{"x":3,"t":9,"v":0.5},{"x":3.5,"t":9,"v":0.5},{"x":4,"t":9,"v":0.5},{"x":4.5,"t":9,"v":0.5},{"x":5,"t":9,"v":0.5},{"x":5.5,"t":9,"v":0.5},{"x":6,"t":9,"v":3.5},{"x":6.5,"t":9,"v":3.5},{"x":7,"t":9,"v":3.5},{"x":7.5,"t":9,"v":3.5},{"x":8,"t":9,"v":3.5}
 ]},
 "mark": {"type": "rect", "width": 13.2, "height": 12.2, "clip": true},
 "encoding": {
  "x": {"field": "x", "type": "quantitative", "scale": {"domain": [-8, 8], "nice": false, "zero": false}, "axis": {"values": [-8,-6,-4,-2,0,2,4,6,8], "labelExpr": "datum.value < 0 ? -datum.value + 'W' : datum.value > 0 ? datum.value + 'E' : '0'", "title": null}},
  "y": {"field": "t", "type": "quantitative", "scale": {"domain": [7.5, 31], "nice": false, "zero": false}, "axis": {"values": [9,12,15,18,21,24,27,30], "title": "T I M E"}},
  "color": {"field": "v", "type": "quantitative", "scale": {"type": "threshold", "domain": [0.1,1,2,3,4,6,8,10,12], "range": ["#d7d7d7","#b4f0fa","#96d2fa","#7db9f5","#3c96f0","#1e69e6","#c3f8bb","#96f08c","#50e650","#1eb41e"]}, "legend": {"title": null, "format": "~g"}}
 }
},
{
 "title": {"text": "Elevation\u00a0 [m]", "offset": -1},
 "width": 404, "height": 94,
 "data": {"values": [
{"x":-8,"e":5},{"x":-7.7,"e":15},{"x":-7.4,"e":60},{"x":-7.1,"e":180},{"x":-6.8,"e":310},{"x":-6.6,"e":320},{"x":-6.3,"e":220},{"x":-6.0,"e":110},{"x":-5.8,"e":180},{"x":-5.4,"e":185},{"x":-5.0,"e":80},{"x":-4.4,"e":25},{"x":-4.0,"e":75},{"x":-3.6,"e":165},{"x":-3.1,"e":205},{"x":-2.6,"e":290},{"x":-2.3,"e":400},{"x":-2.0,"e":520},{"x":-1.8,"e":620},{"x":-1.4,"e":815},{"x":-1.0,"e":1140},{"x":-0.7,"e":1700},{"x":-0.45,"e":1920},{"x":-0.1,"e":2240},{"x":0,"e":2280},{"x":0.2,"e":2200},{"x":0.6,"e":2030},{"x":1.0,"e":1960},{"x":1.4,"e":1890},{"x":1.8,"e":1760},{"x":2.2,"e":1670},{"x":2.7,"e":1600},{"x":3.4,"e":1490},{"x":4.0,"e":1430},{"x":4.4,"e":1360},{"x":5.1,"e":1350},{"x":5.35,"e":1290},{"x":5.6,"e":1110},{"x":5.9,"e":780},{"x":6.15,"e":590},{"x":6.7,"e":400},{"x":7.2,"e":325},{"x":8.0,"e":290}
 ]},
 "mark": {"type": "area", "color": "#e5d935", "clip": true},
 "encoding": {
  "x": {"field": "x", "type": "quantitative", "scale": {"domain": [-8, 8], "nice": false, "zero": false}, "axis": {"values": [-8,-6,-4,-2,0,2,4,6,8], "labelExpr": "datum.value < 0 ? -datum.value + 'W' : datum.value > 0 ? datum.value + 'E' : '0'", "title": null}},
  "y": {"field": "e", "type": "quantitative", "scale": {"domain": [0, 3000], "nice": false}, "axis": {"values": [0,500,1000,1500,2000,2500,3000], "format": "d", "title": "Elev.(m)"}}
 }
}
]
}
